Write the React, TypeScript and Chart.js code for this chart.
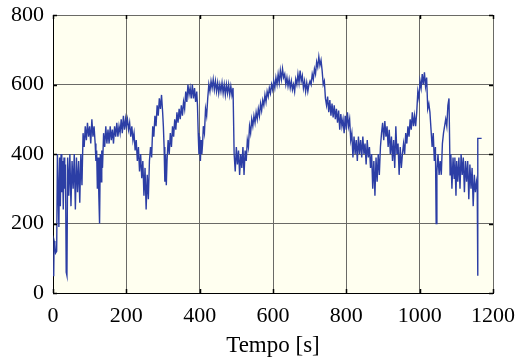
import { useEffect, useRef } from "react";
import { Chart, registerables } from "chart.js";

Chart.register(...registerables);

const tempo = [
  0, 2, 3, 5, 7, 10, 12, 14, 16, 18,
  20, 22, 24, 26, 28, 30, 32, 34, 36, 38,
  40, 43, 46, 49, 52, 55, 58, 61, 64, 67,
  70, 73, 76, 79, 82, 85, 88, 91, 94, 97,
  100, 103, 106, 109, 112, 115, 117, 119, 121, 123,
  125, 127, 129, 131, 133, 135, 138, 141, 144, 147,
  150, 153, 156, 159, 162, 165, 168, 171, 174, 177,
  180, 183, 186, 189, 192, 195, 198, 200, 203, 206,
  209, 212, 215, 218, 221, 224, 227, 230, 233, 236,
  239, 242, 245, 248, 251, 254, 257, 260, 263, 266,
  269, 272, 275, 278, 281, 284, 287, 290, 293, 296,
  299, 301, 303, 305, 307, 309, 311, 314, 317, 320,
  323, 326, 329, 332, 335, 338, 341, 344, 347, 350,
  353, 356, 359, 362, 365, 368, 371, 374, 377, 380,
  383, 386, 389, 392, 394, 396, 398, 400, 402, 404,
  406, 408, 410, 413, 416, 419, 422, 425, 428, 431,
  434, 437, 440, 443, 446, 449, 452, 455, 458, 461,
  464, 467, 470, 473, 476, 479, 482, 485, 488, 491,
  494, 497, 500, 503, 506, 509, 512, 515, 518, 521,
  524, 527, 530, 533, 536, 539, 542, 545, 548, 551,
  554, 557, 560, 563, 566, 569, 572, 575, 578, 581,
  584, 587, 590, 593, 596, 599, 602, 605, 608, 611,
  614, 617, 620, 623, 626, 629, 632, 635, 638, 641,
  644, 647, 650, 653, 656, 659, 662, 665, 668, 671,
  674, 677, 680, 683, 686, 689, 692, 695, 698, 701,
  704, 707, 710, 713, 716, 719, 722, 725, 728, 731,
  734, 737, 740, 743, 746, 749, 752, 755, 758, 761,
  764, 767, 770, 773, 776, 779, 782, 785, 788, 791,
  794, 797, 800, 803, 806, 809, 812, 815, 818, 821,
  824, 827, 830, 833, 836, 839, 842, 845, 848, 851,
  854, 857, 860, 863, 866, 869, 872, 875, 878, 881,
  884, 887, 890, 893, 896, 899, 902, 905, 908, 911,
  914, 917, 920, 923, 926, 929, 932, 935, 938, 941,
  944, 947, 950, 953, 956, 959, 962, 965, 968, 971,
  974, 977, 980, 983, 986, 989, 992, 995, 998, 1001,
  1004, 1007, 1010, 1013, 1016, 1019, 1022, 1025, 1028, 1031,
  1034, 1037, 1040, 1043, 1045, 1047, 1050, 1053, 1056, 1059,
  1062, 1065, 1068, 1071, 1074, 1077, 1080, 1083, 1085, 1088,
  1091, 1094, 1096, 1099, 1101, 1104, 1107, 1110, 1113, 1116,
  1119, 1122, 1125, 1128, 1131, 1134, 1137, 1140, 1143, 1146,
  1149, 1152, 1155, 1157, 1158, 1159, 1169,
];

const valori = [
  50, 55, 150, 140, 115, 120, 400, 300, 190, 390,
  250, 400, 290, 380, 240, 390, 300, 370, 60, 50,
  390, 280, 400, 250, 380, 300, 400, 240, 390, 290,
  380, 260, 400, 310, 460, 420, 480, 440, 490, 450,
  480, 430, 500, 450, 480, 430, 380, 410, 300, 390,
  280, 200, 400, 320, 410, 360, 460, 420, 480, 430,
  470, 430, 480, 440, 470, 430, 480, 450, 490, 450,
  480, 460, 500, 460, 510, 470, 500, 480, 500, 470,
  490, 450, 480, 440, 460, 410, 440, 380, 420, 350,
  400, 330, 380, 280, 360, 240, 340, 270, 380, 420,
  390, 480, 450, 510, 480, 540, 510, 560, 530, 570,
  520, 480, 420, 320, 400, 310, 380, 440, 400, 460,
  420, 480, 450, 500, 470, 520, 490, 530, 500, 540,
  510, 550, 530, 580, 550, 600, 570, 590, 560, 600,
  560, 590, 550, 580, 540, 460, 400, 450, 380, 440,
  400, 430, 480, 460, 530, 510, 560, 600, 580, 610,
  590, 615, 585, 610, 580, 605, 575, 600, 580, 605,
  575, 600, 570, 600, 575, 600, 570, 595, 570, 590,
  400, 350, 420, 370, 410, 340, 400, 360, 420, 340,
  410, 380, 440, 420, 480, 460, 500, 480, 510, 490,
  520, 500, 530, 510, 545, 525, 555, 540, 570, 550,
  580, 565, 590, 575, 600, 585, 610, 590, 620, 600,
  630, 605, 640, 615, 645, 620, 630, 600, 620, 595,
  615, 590, 610, 585, 600, 580, 615, 600, 630, 605,
  640, 610, 625, 590, 610, 580, 605, 580, 600, 610,
  600, 630, 615, 645, 630, 665, 650, 680, 655, 670,
  640, 600, 610, 560, 540, 565, 520, 555, 510, 545,
  505, 540, 500, 530, 490, 525, 470, 515, 480, 500,
  460, 510, 470, 520, 480, 500, 440, 460, 390, 450,
  400, 440, 380, 450, 400, 440, 390, 450, 400, 430,
  370, 440, 390, 420, 360, 400, 300, 380, 280, 390,
  320, 400, 340, 420, 460, 490, 440, 495, 450, 480,
  420, 470, 400, 450, 380, 440, 360, 480, 400, 430,
  340, 420, 360, 400, 430, 400, 460, 430, 480, 450,
  500, 470, 520, 480, 510, 480, 520, 580, 560, 610,
  590, 630, 600, 635, 595, 620, 530, 545, 520, 470,
  420, 460, 380, 420, 200, 350, 400, 340, 380, 340,
  430, 460, 480, 500, 480, 540, 560, 340, 400, 300,
  390, 330, 390, 280, 380, 320, 390, 300, 400, 340,
  390, 290, 380, 320, 380, 270, 370, 300, 360, 250,
  340, 290, 320, 300, 50, 445, 445,
];

const xTicks = [0, 200, 400, 600, 800, 1000, 1200];
const yTicks = [0, 200, 400, 600, 800];
const xTitle = "Tempo [s]";

const FONT = "'Liberation Serif', 'Times New Roman', serif";

const bgPlugin = {
  id: "bgPlugin",
  beforeDraw(chart: any) {
    const { ctx, chartArea } = chart;
    ctx.save();
    ctx.fillStyle = "#ffffff";
    ctx.fillRect(0, 0, chart.width, chart.height);
    ctx.fillStyle = "#fffff0";
    ctx.fillRect(chartArea.left, chartArea.top, chartArea.right - chartArea.left, chartArea.bottom - chartArea.top);
    ctx.restore();
  },
};

const tickPlugin = {
  id: "tickPlugin",
  afterDraw(chart: any) {
    const { ctx, chartArea } = chart;
    const xs = chart.scales.x;
    const ys = chart.scales.y;
    const L = 4;
    ctx.save();
    ctx.strokeStyle = "#000";
    ctx.lineWidth = 1.5;
    ctx.beginPath();
    xTicks.forEach((v) => {
      const px = Math.round(xs.getPixelForValue(v)) + 0.5;
      ctx.moveTo(px, chartArea.bottom);
      ctx.lineTo(px, chartArea.bottom - L);
      ctx.moveTo(px, chartArea.top);
      ctx.lineTo(px, chartArea.top + L);
    });
    yTicks.forEach((v) => {
      const py = Math.round(ys.getPixelForValue(v)) + 0.5;
      ctx.moveTo(chartArea.left, py);
      ctx.lineTo(chartArea.left + L, py);
      ctx.moveTo(chartArea.right, py);
      ctx.lineTo(chartArea.right - L, py);
    });
    ctx.stroke();
    ctx.restore();
  },
};

export default function App() {
  const ref = useRef<HTMLCanvasElement>(null);
  useEffect(() => {
    const points = tempo.map((t, i) => ({ x: t, y: valori[i] }));
    const chart = new Chart(ref.current as HTMLCanvasElement, {
      type: "line",
      data: {
        datasets: [
          {
            data: points,
            borderColor: "#2c3ea5",
            borderWidth: 1.4,
            pointRadius: 0,
            tension: 0,
            fill: false,
          },
        ],
      },
      options: {
        animation: false,
        responsive: false,
        layout: { padding: { left: 0, right: 23, top: 15, bottom: 0 } },
        plugins: { legend: { display: false }, tooltip: { enabled: false } },
        scales: {
          x: {
            type: "linear",
            min: 0,
            max: 1200,
            afterBuildTicks: (s: any) => {
              s.ticks = xTicks.map((v) => ({ value: v }));
            },
            afterFit: (s: any) => {
              s.height = 70;
              s.paddingLeft = 0;
              s.paddingRight = 0;
            },
            grid: { color: "#6a6a66", lineWidth: 1, drawTicks: false },
            border: { color: "#000", width: 1 },
            ticks: {
              padding: 10,
              color: "#000",
              font: { family: FONT, size: 22 },
              maxRotation: 0,
              autoSkip: false,
              callback: (v: any) => String(v),
            },
            title: {
              display: true,
              text: xTitle,
              color: "#000",
              font: { family: FONT, size: 23 },
              padding: { top: 0, bottom: 3 },
            },
          },
          y: {
            type: "linear",
            min: 0,
            max: 800,
            afterBuildTicks: (s: any) => {
              s.ticks = yTicks.map((v) => ({ value: v }));
            },
            afterFit: (s: any) => {
              s.width = 53;
              s.paddingTop = 0;
              s.paddingBottom = 0;
            },
            grid: { color: "#6a6a66", lineWidth: 1, drawTicks: false },
            border: { color: "#000", width: 1 },
            ticks: {
              padding: 9,
              color: "#000",
              font: { family: FONT, size: 22 },
              autoSkip: false,
              callback: (v: any) => String(v),
            },
          },
        },
      },
      plugins: [bgPlugin, tickPlugin],
    });
    return () => chart.destroy();
  }, []);
  return (
    <div style={{ position: "fixed", left: 0, top: 0, width: 516, height: 363, background: "#fff" }}>
      <canvas ref={ref} width={516} height={363} style={{ display: "block", width: 516, height: 363 }} />
    </div>
  );
}
